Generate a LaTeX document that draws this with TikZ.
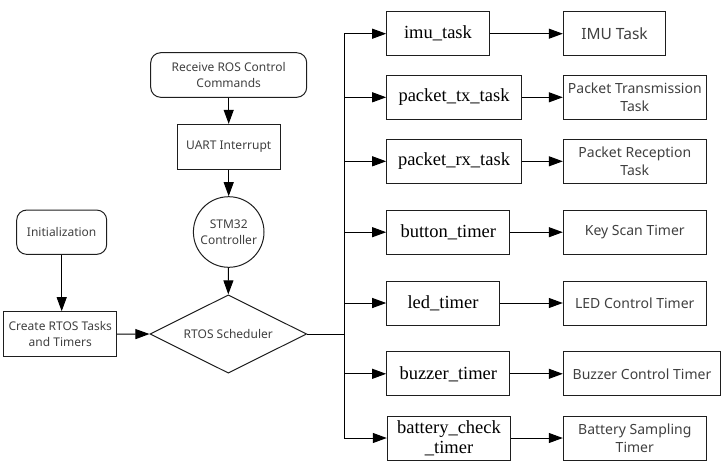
\documentclass[tikz,border=0pt]{standalone}
\usepackage{fontspec}
\setmainfont{Noto Sans}
\newfontfamily\codefont{Liberation Serif}
\usetikzlibrary{shapes.geometric,arrows.meta}
\definecolor{txtgray}{RGB}{64,64,64}
\definecolor{linegray}{RGB}{30,30,30}
\tikzset{
  base/.style={draw=linegray, line width=1pt, inner sep=0pt, align=center, text=txtgray},
  roundbox/.style={base, rounded corners=10pt, font=\fontsize{12}{15.7}\selectfont},
  leftbox/.style={base, font=\fontsize{12}{15.7}\selectfont},
  codebox/.style={base, text=black, minimum height=44pt, font=\codefont\fontsize{18.5}{20}\selectfont},
  descbox/.style={base, minimum height=44pt, font=\fontsize{14}{18.3}\selectfont},
  arr/.style={draw=black, line width=1pt, -{Triangle[length=14pt,width=10pt]}},
  ln/.style={draw=black, line width=1pt},
}
\begin{document}
\begin{tikzpicture}[x=1pt,y=-1pt]
\useasboundingbox (0,0) rectangle (728,469);
% left column
\node[roundbox, minimum width=156pt, minimum height=44.6pt] (recv) at (228.7,75) {Receive ROS Control\\Commands};
\node[leftbox, minimum width=102.7pt, minimum height=44.7pt] (uart) at (228.7,146.7) {UART Interrupt};
\node[base, circle, minimum size=70.6pt, font=\fontsize{12}{15.7}\selectfont] (stm) at (228.7,232) {STM32\\Controller};
\node[base, diamond, aspect=2, minimum width=156.7pt, minimum height=78.3pt, font=\fontsize{12}{15.7}\selectfont] (sched) at (228.3,334) {RTOS Scheduler};
\node[roundbox, minimum width=90pt, minimum height=44.3pt] (init) at (61.7,232.2) {Initialization};
\node[leftbox, minimum width=112.7pt, minimum height=45pt] (create) at (60.3,334.2) {Create RTOS Tasks\\and Timers};
% code boxes
\node[codebox, minimum width=102.6pt] (imu) at (438,33.7) {imu\_task};
\node[codebox, minimum width=134.6pt] (ptx) at (454,97.3) {packet\_tx\_task};
\node[codebox, minimum width=134.6pt] (prx) at (454,161.3) {packet\_rx\_task};
\node[codebox, minimum width=123.3pt] (btn) at (448.3,232.2) {button\_timer};
\node[codebox, minimum width=112.6pt] (led) at (443,303) {led\_timer};
\node[codebox, minimum width=123.3pt] (buz) at (448.3,373.8) {buzzer\_timer};
\node[codebox, minimum width=123.4pt] (bat) at (449,438) {battery\_check\\\_timer};
% description boxes
\node[descbox, minimum width=102.4pt, font=\fontsize{15.5}{18.3}\selectfont] (dimu) at (614.5,33.7) {IMU Task};
\node[descbox, minimum width=143pt] (dptx) at (634.8,97.3) {Packet Transmission\\Task};
\node[descbox, minimum width=143pt] (dprx) at (634.8,161.3) {Packet Reception\\Task};
\node[descbox, minimum width=143pt] (dbtn) at (634.8,232.2) {Key Scan Timer};
\node[descbox, minimum width=143pt] (dled) at (634.8,303) {LED Control Timer};
\node[descbox, minimum width=157.4pt] (dbuz) at (642,373.8) {Buzzer Control Timer};
\node[descbox, minimum width=143pt] (dbat) at (634.8,438) {Battery Sampling\\Timer};
% connectors
\draw[arr] (recv) -- (uart);
\draw[arr] (uart) -- (stm);
\draw[arr] (stm) -- (sched.north);
\draw[arr] (init) -- (init |- create.north);
\draw[arr] (create.east) -- (sched.west);
\coordinate (trunk) at (344,334);
\draw[ln] (sched.east) -- (trunk);
\draw[ln] (trunk |- imu.west) -- (trunk |- bat.west);
\foreach \n in {imu,ptx,prx,btn,led,buz,bat} {
  \draw[arr] (trunk |- \n.west) -- (\n.west);
}
\draw[arr] (imu) -- (dimu);
\draw[arr] (ptx) -- (dptx);
\draw[arr] (prx) -- (dprx);
\draw[arr] (btn) -- (dbtn);
\draw[arr] (led) -- (dled);
\draw[arr] (buz) -- (dbuz);
\draw[arr] (bat) -- (dbat);
\end{tikzpicture}
\end{document}
